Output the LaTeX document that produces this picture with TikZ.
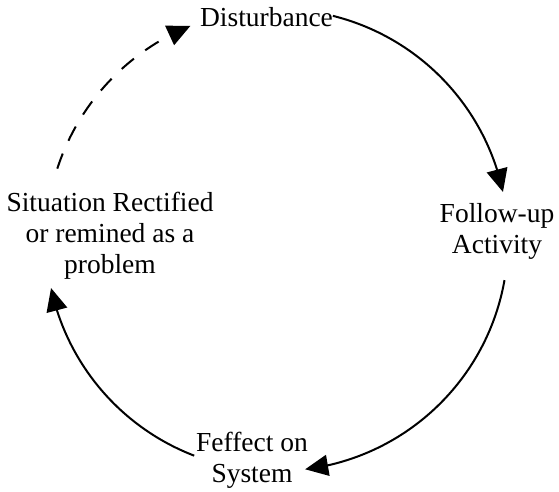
\documentclass[tikz,border=0pt]{standalone}
\usepackage{fontspec}
\setmainfont{Liberation Serif}
\usetikzlibrary{arrows.meta,bending,calc}
\begin{document}
\begin{tikzpicture}[x=1pt,y=1pt,
  label/.style={font=\fontsize{27.5}{31}\selectfont, align=center, inner sep=0pt},
  flow/.style={line width=2pt, -{Triangle[length=23pt,width=21pt,flex]}},
  backflow/.style={flow, dash pattern=on 16pt off 14pt}]
\useasboundingbox (0,0) rectangle (559,491);
\coordinate (c) at (277,251);
\def\rad{231}
% stage labels
\node[label, anchor=base] (dist) at (266.5,464) {Disturbance};
\node[label] (follow) at (497,260) {Follow-up\\Activity};
\node[label] (effect) at (252,31) {Feffect on\\System};
\node[label] (rect) at (110,255) {Situation Rectified\\or remined as a\\problem};
% arc end points on the cycle circle
\coordinate (s1) at ($(c)+(76:\rad)$);
\coordinate (s2) at ($(c)+(-10:\rad)$);
\coordinate (s3) at ($(c)+(249:\rad)$);
\coordinate (s4) at ($(c)+(162:\rad)$);
% cycle arrows
\draw[flow] (s1) arc[start angle=76, end angle=12, radius=\rad];
\draw[flow] (s2) arc[start angle=-10, end angle=-83, radius=\rad];
\draw[flow] (s3) arc[start angle=249, end angle=192, radius=\rad];
\draw[backflow] (s4) arc[start angle=162, end angle=112, radius=\rad];
\end{tikzpicture}
\end{document}
